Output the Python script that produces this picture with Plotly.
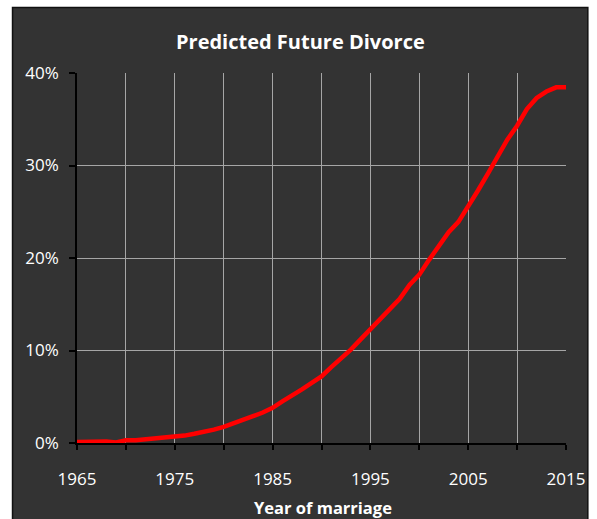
import plotly.graph_objects as go

years = list(range(1965, 2016))
divorce_pct = [0.1, 0.15, 0.15, 0.15, 0.05, 0.3, 0.3, 0.4, 0.45, 0.55,
               0.65, 0.8, 1.0, 1.2, 1.45, 1.75, 2.1, 2.5, 2.9, 3.3,
               3.8, 4.5, 5.1, 5.8, 6.5, 7.2, 8.2, 9.1, 10.1, 11.2,
               12.3, 13.4, 14.5, 15.6, 17.1, 18.2, 19.8, 21.3, 22.8, 23.9,
               25.5, 27.3, 29.1, 31.0, 32.8, 34.3, 36.1, 37.3, 38.0, 38.45,
               38.45]
x_tickvals = [1965, 1970, 1975, 1980, 1985, 1990, 1995, 2000, 2005, 2010, 2015]
x_ticktext = ["1965", "", "1975", "", "1985", "", "1995", "", "2005", "", "2015"]
y_tickvals = [0, 10, 20, 30, 40]
y_ticktext = ["0%", "10%", "20%", "30%", "40%"]

title_text = "Predicted Future Divorce"
x_title = "Year of marriage"

PANEL = "#333333"
GRID = "#a6a6a6"
FONT = "Open Sans"

fig = go.Figure()
fig.add_trace(go.Scatter(
    x=years, y=divorce_pct, mode="lines",
    line=dict(color="#ff0000", width=4.5),
    hoverinfo="skip", showlegend=False,
))

W, H = 597, 519
L, R, T, B = 77, 570, 73, 443
pw, ph = R - L, B - T

def px_x(v):
    return (v - L) / pw

def px_y(v):
    return (B - v) / ph

fig.add_shape(type="rect", xref="paper", yref="paper",
              x0=px_x(12), x1=px_x(592), y0=px_y(560), y1=px_y(7.5),
              fillcolor=PANEL, line=dict(color="#111111", width=1.5),
              layer="below")

fig.update_layout(
    width=W, height=H,
    margin=dict(l=L, r=W - R, t=T, b=H - B, pad=0),
    paper_bgcolor="white",
    plot_bgcolor=PANEL,
    font=dict(family=FONT, color="white", size=16),
    showlegend=False,
    annotations=[
        dict(text="<b>%s</b>" % title_text, xref="paper", yref="paper",
             x=px_x(302), y=px_y(42), showarrow=False,
             xanchor="center", yanchor="middle",
             font=dict(family=FONT, size=20, color="white")),
        dict(text="<b>%s</b>" % x_title, xref="paper", yref="paper",
             x=px_x(325), y=px_y(507), showarrow=False,
             xanchor="center", yanchor="middle",
             font=dict(family=FONT, size=16.5, color="white")),
    ],
)

fig.update_xaxes(
    range=[1965, 2015], tickvals=x_tickvals, ticktext=x_ticktext,
    showgrid=True, gridcolor=GRID, gridwidth=1,
    showline=True, linecolor="black", linewidth=1.5,
    ticks="outside", ticklen=5, tickcolor="black", tickwidth=1.5,
    tickfont=dict(family=FONT, size=17, color="white"),
    ticklabelstandoff=15,
    zeroline=False,
)
fig.update_yaxes(
    range=[0, 40], tickvals=y_tickvals, ticktext=y_ticktext,
    showgrid=True, gridcolor=GRID, gridwidth=1,
    showline=True, linecolor="black", linewidth=1.5,
    ticks="outside", ticklen=6, tickcolor="black", tickwidth=1.5,
    tickfont=dict(family=FONT, size=17, color="white"),
    ticklabelstandoff=7,
    zeroline=False,
)

fig.write_html("out.html",
               config={"displayModeBar": False},
               post_script="document.body.style.margin='0';document.body.style.overflow='hidden';")
